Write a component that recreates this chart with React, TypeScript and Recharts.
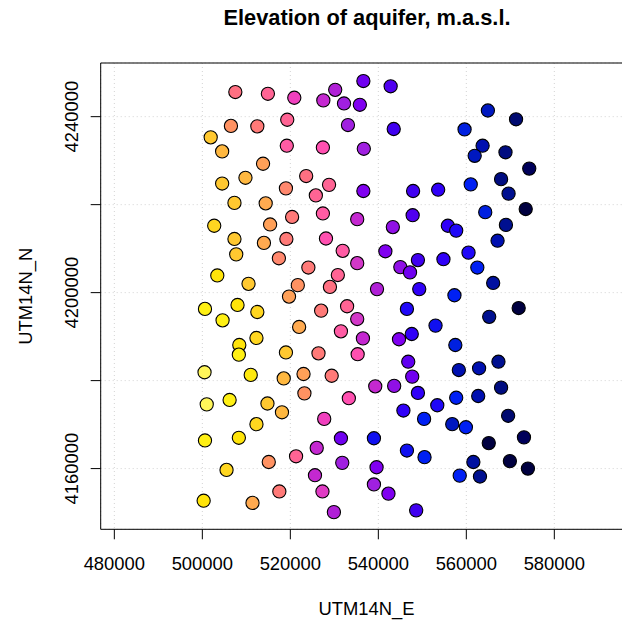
import React from 'react';
import { ScatterChart, Scatter, XAxis, YAxis, CartesianGrid, ReferenceLine } from 'recharts';

const eastings = [
  507500, 514900, 520900, 527500, 506500, 512500, 519300, 501900, 504500, 519200,
  527400, 513800, 504500, 509800, 523600, 519000, 525800, 528800, 507300, 514400,
  520400, 527400, 536600, 530200, 542800, 532200, 535800, 533100, 543500, 536700,
  536600, 547900, 553600, 535200, 547800, 564900, 571300, 559600, 563700, 561900,
  568900, 574300, 561000, 567900, 569600, 564300, 573500, 569000, 502700, 515400,
  507300, 514000, 519100, 528100, 507700, 517400, 503400, 510500, 524100, 521700,
  529000, 519700, 500600, 508000, 512500, 504600, 527000, 522000, 512300, 508400,
  508300, 519000, 526400, 543300, 555800, 557700, 531900, 541600, 535200, 549000,
  554800, 545000, 547200, 530800, 539700, 549300, 557300, 532900, 535200, 546500,
  531500, 536500, 553000, 544700, 547600, 557500, 535300, 546800, 567100, 560500,
  562500, 566100, 571900, 565200, 567300, 500500, 511000, 518500, 523000, 529400,
  501000, 506200, 514800, 518100, 523200, 512300, 527700, 500600, 508300, 526000,
  521300, 515100, 505500, 525600, 527300, 500300, 511400, 517500, 529900, 539300,
  543600, 547700, 533300, 549000, 553400, 545700, 550400, 556800, 531500, 539000,
  546500, 550500, 531800, 539600, 539000, 542300, 548600, 558500, 558300, 562900,
  557700, 562700, 567900, 559900, 569500, 573100, 565100, 561600, 569900, 574000,
  563100,
];

const northings = [
  4245600, 4245200, 4244300, 4243700, 4237900, 4237800, 4239300, 4235300, 4232100, 4233400,
  4233000, 4229300, 4224800, 4226100, 4226500, 4223700, 4222100, 4224500, 4220400, 4220300,
  4217200, 4218000, 4248100, 4246100, 4246900, 4243000, 4242700, 4238100, 4237200, 4232700,
  4223100, 4223100, 4223400, 4216700, 4217600, 4241400, 4239400, 4237100, 4233400, 4231100,
  4231900, 4228200, 4224600, 4225800, 4222500, 4218300, 4219000, 4215400, 4215200, 4215500,
  4212200, 4211300, 4212200, 4212300, 4208700, 4207800, 4203900, 4202000, 4205700, 4201700,
  4201300, 4199100, 4196300, 4197200, 4195600, 4193700, 4195900, 4192200, 4189700, 4188100,
  4185900, 4186400, 4186200, 4214900, 4215200, 4214100, 4209500, 4209400, 4206700, 4207400,
  4207600, 4205800, 4204600, 4204000, 4200800, 4200800, 4199400, 4196900, 4194000, 4196300,
  4191200, 4189600, 4192500, 4189400, 4190600, 4188100, 4186000, 4184300, 4211800, 4209100,
  4205700, 4202200, 4196500, 4194500, 4184300, 4181900, 4181300, 4180500, 4181500, 4181100,
  4174600, 4175600, 4174800, 4172800, 4177100, 4170100, 4171300, 4166400, 4167000, 4164700,
  4162800, 4161500, 4159700, 4158500, 4154800, 4152700, 4152200, 4154800, 4150100, 4178700,
  4178800, 4180900, 4176000, 4177200, 4174400, 4173200, 4171300, 4170100, 4166900, 4166900,
  4164100, 4162600, 4161300, 4160300, 4156400, 4154300, 4150500, 4158400, 4182400, 4182800,
  4176100, 4176500, 4178400, 4169400, 4172000, 4167100, 4165800, 4161500, 4161700, 4160000,
  4158200,
];

// relative elevation level (0 = highest/yellow ... 100 = lowest/navy)
const levels = [
  40, 43, 52, 60, 31, 37, 43, 18, 22, 46,
  49, 28, 18, 22, 40, 34, 43, 43, 18, 25,
  37, 46, 75, 63, 80, 66, 72, 66, 82, 66,
  72, 82, 85, 60, 80, 94, 98.5, 92, 95, 94,
  98, 99, 91, 98, 97, 92, 100, 97, 14, 28,
  18, 25, 37, 49, 18, 34, 10, 18, 37, 31,
  40, 28, 5, 10, 14, 5, 37, 25, 14, 10,
  5, 18, 37, 69, 85, 87, 46, 72, 57, 82,
  85, 69, 75, 43, 63, 85, 91, 43, 57, 87,
  46, 60, 89, 72, 85, 92, 49, 78, 95, 87,
  91, 96, 100, 97, 97, 0, 8, 22, 28, 37,
  0, 5, 18, 22, 31, 14, 52, 5, 10, 60,
  43, 31, 14, 60, 55, 10, 25, 37, 63, 60,
  69, 75, 49, 85, 87, 85, 91, 94, 75, 89,
  89, 91, 66, 72, 66, 72, 82, 91, 95, 95,
  91, 95, 98, 91, 98.5, 99, 100, 96, 100, 100,
  97,
];

const xTicks = [480000, 500000, 520000, 540000, 560000, 580000];
const yTicks = [4160000, 4180000, 4200000, 4220000, 4240000];
const yLabelled = [4160000, 4200000, 4240000];

const paletteStops: [number, number[]][] = [
  [0, [255, 246, 90]], [5, [255, 240, 20]], [10, [255, 228, 10]], [14, [255, 214, 32]],
  [18, [255, 200, 48]], [22, [255, 184, 64]], [25, [255, 170, 80]], [28, [255, 160, 88]],
  [31, [255, 146, 98]], [34, [255, 136, 110]], [37, [255, 122, 120]], [40, [255, 112, 130]],
  [43, [255, 100, 148]], [46, [255, 92, 164]], [49, [255, 80, 176]], [52, [240, 64, 190]],
  [55, [224, 60, 196]], [57, [210, 56, 200]], [60, [196, 40, 208]], [63, [176, 32, 214]],
  [66, [160, 32, 224]], [69, [144, 16, 230]], [72, [128, 0, 240]], [75, [112, 0, 240]],
  [78, [96, 0, 240]], [80, [80, 0, 240]], [82, [64, 0, 240]], [85, [48, 0, 248]],
  [87, [32, 8, 248]], [89, [16, 16, 240]], [91, [0, 32, 244]], [92, [0, 32, 224]],
  [94, [0, 24, 192]], [95, [0, 16, 176]], [96, [0, 16, 160]], [97, [0, 16, 144]],
  [98, [0, 12, 128]], [98.5, [0, 10, 112]], [99, [0, 0, 90]], [100, [0, 0, 64]],
];

function palette(v: number): string {
  for (let i = 0; i < paletteStops.length - 1; i++) {
    const [a, ca] = paletteStops[i];
    const [b, cb] = paletteStops[i + 1];
    if (v >= a && v <= b) {
      const t = b === a ? 0 : (v - a) / (b - a);
      const c = ca.map((q, k) => Math.round(q + (cb[k] - q) * t));
      return `rgb(${c[0]},${c[1]},${c[2]})`;
    }
  }
  const c = paletteStops[paletteStops.length - 1][1];
  return `rgb(${c[0]},${c[1]},${c[2]})`;
}

const data = eastings.map((x, i) => ({ x, y: northings[i], fill: palette(levels[i]) }));

const FONT = '"Liberation Sans", Arial, Helvetica, sans-serif';
const XDOM: [number, number] = [476900, 597700];
const YDOM: [number, number] = [4146200, 4252200];

const XTick = (p: any) => (
  <text x={p.x} y={p.y + 30.7} textAnchor="middle" fontSize={18.4} fontFamily={FONT} fill="#000">
    {p.payload.value}
  </text>
);

const YTick = (p: any) => {
  if (!yLabelled.includes(p.payload.value)) return <g />;
  const bx = p.x - 12.4;
  return (
    <text
      x={bx}
      y={p.y}
      transform={`rotate(-90, ${bx}, ${p.y})`}
      textAnchor="middle"
      fontSize={18.4}
      fontFamily={FONT}
      fill="#000"
    >
      {p.payload.value}
    </text>
  );
};

const Dot = (p: any) => (
  <circle cx={p.cx} cy={p.cy} r={6.6} fill={p.payload.fill} stroke="#000" strokeWidth={1.1} />
);

export default function App() {
  return (
    <div style={{ position: 'absolute', left: 0, top: 0, width: 622, height: 621, overflow: 'hidden', background: '#fff' }}>
      <ScatterChart width={680} height={621} margin={{ top: 63, right: 47.8, bottom: 31.7, left: 30.7 }}>
        <CartesianGrid stroke="#d3d3d3" strokeDasharray="1 3" />
        <XAxis
          type="number"
          dataKey="x"
          domain={XDOM}
          ticks={xTicks}
          interval={0}
          allowDataOverflow
          height={60}
          tickSize={10}
          tickMargin={0}
          axisLine={{ stroke: '#000' }}
          tickLine={{ stroke: '#000' }}
          tick={XTick}
        />
        <YAxis
          type="number"
          dataKey="y"
          domain={YDOM}
          ticks={yTicks}
          interval={0}
          allowDataOverflow
          width={70}
          tickSize={10}
          tickMargin={0}
          axisLine={{ stroke: '#000' }}
          tickLine={{ stroke: '#000' }}
          tick={YTick}
        />
        <ReferenceLine y={YDOM[1]} stroke="#000" ifOverflow="visible" />
        <ReferenceLine x={XDOM[1]} stroke="#000" ifOverflow="visible" />
        <Scatter data={data} shape={Dot} isAnimationActive={false} />
      </ScatterChart>
      <svg width={622} height={621} style={{ position: 'absolute', left: 0, top: 0, pointerEvents: 'none' }}>
        <text x={367} y={25} textAnchor="middle" fontSize={21.8} fontWeight="bold" fontFamily={FONT} fill="#000">
          Elevation of aquifer, m.a.s.l.
        </text>
        <text x={366.5} y={615} textAnchor="middle" fontSize={18.4} fontFamily={FONT} fill="#000">
          UTM14N_E
        </text>
        <text x={31.7} y={296.2} transform="rotate(-90, 31.7, 296.2)" textAnchor="middle" fontSize={18.4} fontFamily={FONT} fill="#000">
          UTM14N_N
        </text>
      </svg>
    </div>
  );
}
